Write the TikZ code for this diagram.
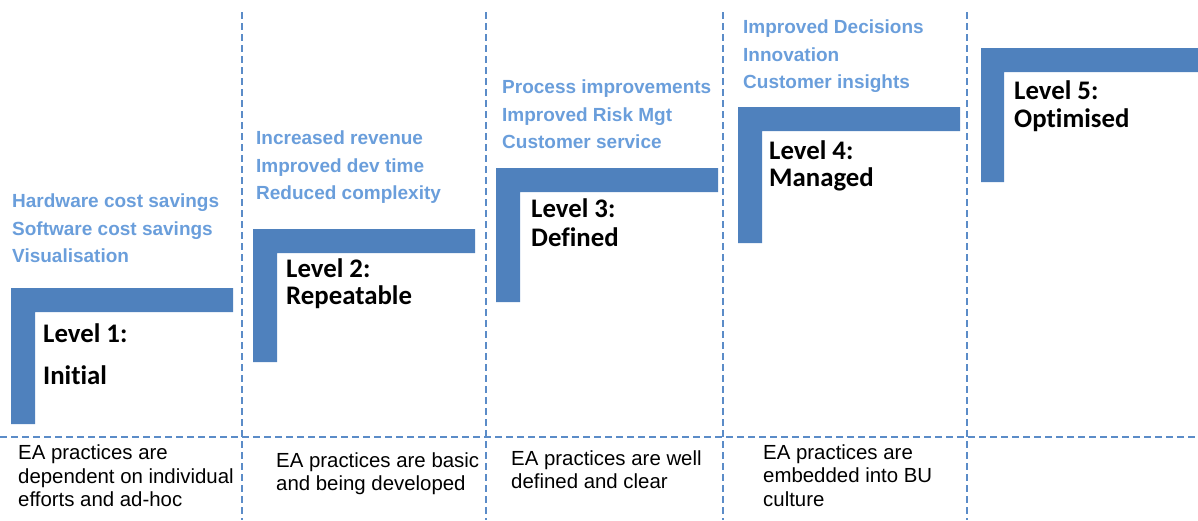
\documentclass[tikz,border=0pt]{standalone}
\usepackage{fontspec}
\setmainfont{Liberation Sans}
\newfontfamily\levelfont[Ligatures={NoCommon,NoRequired,NoContextual}]{Carlito}
\definecolor{barblue}{HTML}{4F81BD}
\definecolor{benefitblue}{HTML}{6A9EDB}
\definecolor{gridblue}{HTML}{5B8CC8}
\begin{document}
\begin{tikzpicture}[x=1pt,y=-1pt,
  stair/.style={fill=barblue,draw=none},
  gridline/.style={draw=gridblue,line width=1.4pt,dash pattern=on 7pt off 4pt},
  benefit/.style={anchor=west,inner sep=0pt,align=left,text=benefitblue,
    font=\fontsize{19}{27.5}\selectfont\bfseries},
  levelname/.style={anchor=west,inner sep=0pt,
    font=\levelfont\fontsize{26.8}{29}\selectfont\bfseries},
  practice/.style={anchor=west,inner sep=0pt,align=left,
    font=\fontsize{20.4}{23.5}\selectfont}]
\useasboundingbox (0,0) rectangle (1198,520);

% column separators and the row line above the descriptions
\foreach \cx in {242,486,723,967}
  \draw[gridline] (\cx,12) -- (\cx,520);
\draw[gridline] (0,437) -- (1198,437);

% the five steps of the staircase
\fill[stair] (11,288) -- (233,288) -- (233,312) -- (35,312) -- (35,424) -- (11,424) -- cycle;
\fill[stair] (253,229) -- (475,229) -- (475,253) -- (277,253) -- (277,362) -- (253,362) -- cycle;
\fill[stair] (496,168) -- (718,168) -- (718,192) -- (520,192) -- (520,302) -- (496,302) -- cycle;
\fill[stair] (738,107) -- (960,107) -- (960,131) -- (762,131) -- (762,243) -- (738,243) -- cycle;
\fill[stair] (981,48) -- (1198,48) -- (1198,72) -- (1004,72) -- (1004,182) -- (981,182) -- cycle;

% level names
\node[levelname] (l1a) at (43,333) {Level 1:};
\node[levelname] (l1b) at (43,375) {Initial};
\node[levelname] (l2a) at (286,268) {Level 2:};
\node[levelname] (l2b) at (286,297) {Repeatable};
\node[levelname] (l3a) at (531,208) {Level 3:};
\node[levelname] (l3b) at (531,237) {Defined};
\node[levelname] (l4a) at (769,150) {Level 4:};
\node[levelname] (l4b) at (769,179) {Managed};
\node[levelname] (l5a) at (1014,90) {Level 5:};
\node[levelname] (l5b) at (1014,120) {Optimised};

% benefits gained at each level
\node[benefit] (b1) at (12,228.5) {Hardware cost savings\\Software cost savings\\Visualisation};
\node[benefit] (b2) at (256,167.5) {Increased revenue\\Improved dev time\\Reduced complexity};
\node[benefit] (b3) at (502,114.5) {Process improvements\\Improved Risk Mgt\\Customer service};
\node[benefit] (b4) at (743,56.5) {Improved Decisions\\Innovation\\Customer insights};

% state of EA practices
\node[practice] (p1) at (18,476) {EA practices are\\dependent on individual\\efforts and ad-hoc};
\node[practice] (p2) at (276,473.5) {EA practices are basic\\and being developed};
\node[practice] (p3) at (511,469.5) {EA practices are well\\defined and clear};
\node[practice] (p4) at (763,475.5) {EA practices are\\embedded into BU\\culture};
\end{tikzpicture}
\end{document}
